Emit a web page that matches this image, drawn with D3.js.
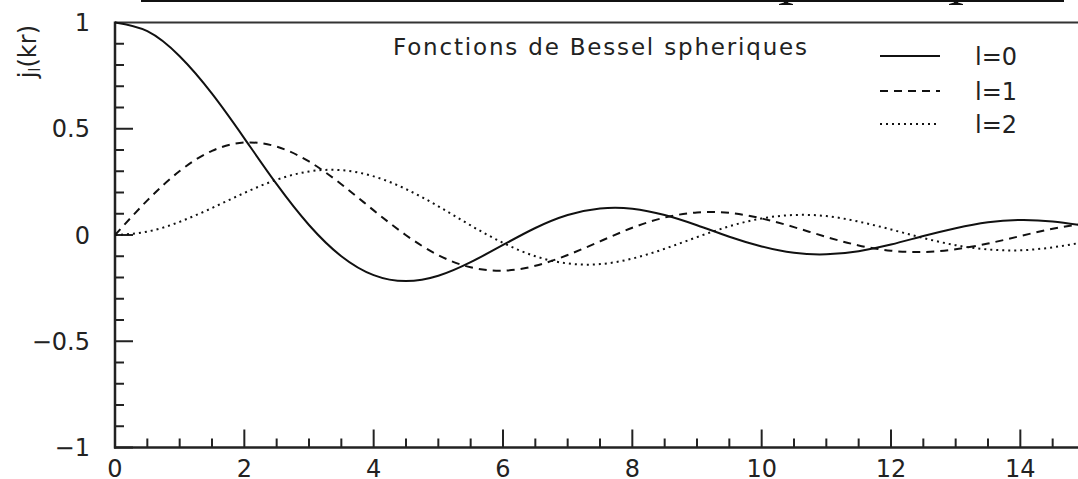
<!DOCTYPE html>
<html><head><meta charset="utf-8">
<script src="https://cdn.jsdelivr.net/npm/d3@7"></script>
<style>html,body{margin:0;padding:0;background:#fff;overflow:hidden}</style>
</head><body>
<script>
const xs = [0,0.5,1,1.5,2,2.5,3,3.5,4,4.5,5,5.5,6,6.5,7,7.5,8,8.5,9,9.5,10,10.5,11,11.5,12,12.5,13,13.5,14,14.5,15];
const l0 = [1,0.959,0.841,0.665,0.455,0.239,0.047,-0.100,-0.189,-0.217,-0.192,-0.128,-0.047,0.033,0.094,0.125,0.124,0.094,0.046,-0.008,-0.054,-0.084,-0.091,-0.076,-0.045,-0.005,0.032,0.060,0.071,0.064,0.043];
const l1 = [0,0.163,0.301,0.396,0.435,0.416,0.346,0.239,0.116,-0.001,-0.095,-0.152,-0.168,-0.145,-0.094,-0.030,0.034,0.082,0.106,0.104,0.078,0.037,-0.009,-0.049,-0.074,-0.080,-0.067,-0.040,-0.005,0.029,0.054];
const l2 = [0,0.016,0.062,0.127,0.198,0.260,0.299,0.305,0.276,0.216,0.135,0.045,-0.037,-0.100,-0.134,-0.137,-0.111,-0.065,-0.010,0.041,0.078,0.094,0.089,0.063,0.026,-0.014,-0.048,-0.068,-0.072,-0.058,-0.033];
const seriesNames = ["l=0","l=1","l=2"];
const xTicks = [0,2,4,6,8,10,12,14];
const yTicks = [-1,-0.5,0,0.5,1];
const yLabels = ["\u22121","\u22120.5","0","0.5","1"];
const legendTitle = "Fonctions de Bessel spheriques";
const yTitle = "(kr)";

const W = 1078, H = 479;
const x = d3.scaleLinear().domain([0,15]).range([115, 1085]);
const y = d3.scaleLinear().domain([-1,1]).range([447.5, 22.5]);
const svg = d3.select("body").append("svg").attr("width",W).attr("height",H)
  .style("font-family","'DejaVu Sans', sans-serif");

// cut-off title box bottom
svg.append("line").attr("x1",141).attr("x2",1064).attr("y1",1).attr("y2",1)
  .attr("stroke","#111").attr("stroke-width",2);
[786, 956].forEach(cx => {
  svg.append("path").attr("d",`M${cx-2},0 L${cx+2},0 L${cx+2},2.5 L${cx+7},4 L${cx+7},5 L${cx-7},5 L${cx-7},4 L${cx-2},2.5 Z`).attr("fill","#111");
});

// frame top
svg.append("line").attr("x1",x(0)).attr("x2",W).attr("y1",y(1)).attr("y2",y(1))
  .attr("stroke","#333").attr("stroke-width",2);

// axes ticks
const axCol = "#222";
const gy = svg.append("g");
d3.range(-10,11).forEach(i => {
  const v = i/10, major = (i % 5 === 0);
  if (i === 10) return;
  gy.append("line").attr("x1",x(0)).attr("x2",x(0)+(major?18:9)).attr("y1",y(v)).attr("y2",y(v))
    .attr("stroke",axCol).attr("stroke-width",2);
});
const gx = svg.append("g");
d3.range(0,31).forEach(i => {
  const v = i/2, major = (i % 4 === 0);
  if (i === 0) return;
  gx.append("line").attr("x1",x(v)).attr("x2",x(v)).attr("y1",y(-1)).attr("y2",y(-1)-(major?18:9))
    .attr("stroke",axCol).attr("stroke-width",2);
});
svg.append("line").attr("x1",x(0)).attr("x2",x(0)).attr("y1",y(1)-1).attr("y2",y(-1)+1)
  .attr("stroke",axCol).attr("stroke-width",2.5);
svg.append("line").attr("x1",x(0)-1).attr("x2",W).attr("y1",y(-1)).attr("y2",y(-1))
  .attr("stroke",axCol).attr("stroke-width",2.5);

// tick labels
yTicks.forEach((v,i) => {
  svg.append("text").attr("x",90).attr("y",y(v)+8.5).attr("text-anchor","end")
    .attr("font-size",24).attr("fill","#222").text(yLabels[i]);
});
xTicks.forEach(v => {
  svg.append("text").attr("x",x(v)).attr("y",477).attr("text-anchor","middle")
    .attr("font-size",24).attr("fill","#222").text(v);
});

// y title (rotated)
const yt = svg.append("text").attr("transform","translate(36,25) rotate(-90)")
  .attr("text-anchor","end").attr("font-size",24).attr("fill","#222");
yt.append("tspan").text("j");
yt.append("tspan").attr("font-size",15).attr("dy",4).text("l");
yt.append("tspan").attr("dy",-4).text(yTitle);

// curves
svg.append("clipPath").attr("id","clip").append("rect")
  .attr("x",x(0)).attr("y",y(1)-2).attr("width",W-x(0)).attr("height",y(-1)-y(1)+2);
const styles = [null, "8,6", "2,4"];
const data = [l0,l1,l2];
const line = d3.line().x((d,i)=>x(xs[i])).y(d=>y(d)).curve(d3.curveNatural);
data.forEach((s,k) => {
  svg.append("path").attr("d",line(s)).attr("fill","none").attr("stroke","#111")
    .attr("stroke-width",2).attr("stroke-dasharray",styles[k]).attr("clip-path","url(#clip)");
});

// legend
svg.append("text").attr("x",393).attr("y",55).attr("font-size",23).attr("fill","#222")
  .attr("textLength",414).attr("lengthAdjust","spacing").text(legendTitle);
const legY = [56, 91, 124];
seriesNames.forEach((n,k) => {
  svg.append("line").attr("x1",880).attr("x2",940).attr("y1",legY[k]).attr("y2",legY[k])
    .attr("stroke","#111").attr("stroke-width",2).attr("stroke-dasharray",styles[k]);
  svg.append("text").attr("x",975).attr("y",legY[k]+9).attr("font-size",24).attr("fill","#222").text(n);
});
</script>
</body></html>
